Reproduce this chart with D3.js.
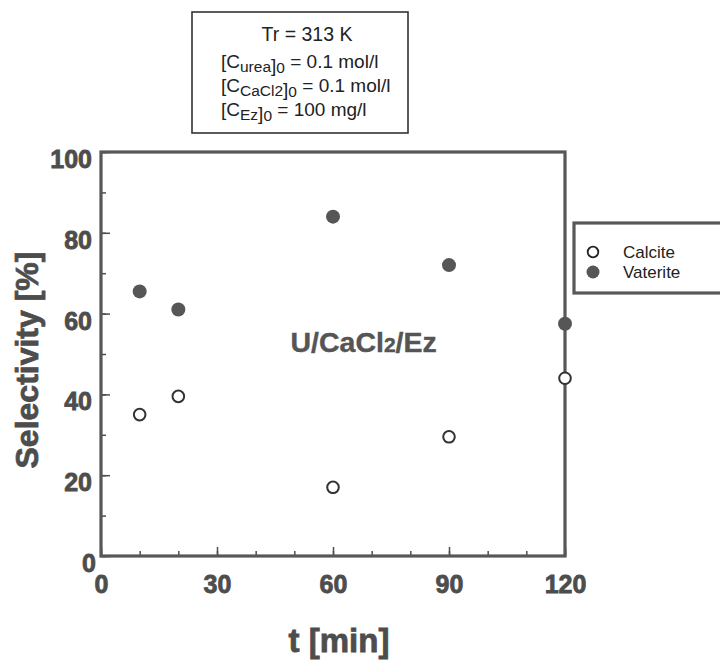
<!DOCTYPE html>
<html>
<head>
<meta charset="utf-8">
<script src="https://cdn.jsdelivr.net/npm/d3@7"></script>
<style>
  body { margin: 0; background: #fff; }
  svg { display: block; font-family: "Liberation Sans", Arial, sans-serif; }
</style>
</head>
<body>
<div id="chart"></div>
<script>
// data
const times = [10, 20, 60, 90, 120];
const calcite = [35, 39.5, 17, 29.5, 44];
const vaterite = [65.5, 61, 84, 72, 57.5];
const xTicks = [0, 30, 60, 90, 120];
const yTicks = [0, 20, 40, 60, 80, 100];
const seriesNames = ['Calcite', 'Vaterite'];

const W = 720, H = 662;
const margin = {top: 152, right: 155, bottom: 106, left: 101};
const width = W - margin.left - margin.right;
const height = H - margin.top - margin.bottom;
const ink = '#4d4d4d';

const svg = d3.select('#chart').append('svg')
  .attr('width', W).attr('height', H);

const g = svg.append('g')
  .attr('transform', `translate(${margin.left},${margin.top})`);

const x = d3.scaleLinear().domain([0, 120]).range([0, width]);
const y = d3.scaleLinear().domain([0, 100]).range([height, 0]);

// minor ticks, inward
g.append('g')
  .attr('transform', `translate(0,${height})`)
  .call(d3.axisBottom(x).tickValues(d3.range(0, 121, 10)).tickSize(-5).tickFormat(''))
  .call(a => a.select('.domain').remove());
g.append('g')
  .call(d3.axisLeft(y).tickValues(d3.range(0, 101, 10)).tickSize(-5).tickFormat(''))
  .call(a => a.select('.domain').remove());

// major ticks + labels
const xAxis = g.append('g')
  .attr('transform', `translate(0,${height})`)
  .call(d3.axisBottom(x).tickValues(xTicks).tickSize(-9).tickPadding(19));
const yAxis = g.append('g')
  .call(d3.axisLeft(y).tickValues(yTicks).tickSize(-9).tickPadding(9));

[xAxis, yAxis].forEach(a => {
  a.select('.domain').remove();
  a.selectAll('.tick text')
    .attr('fill', ink)
    .attr('stroke', ink)
    .attr('stroke-width', 0.8)
    .style('font-size', '25px')
    .style('font-weight', 'bold');
});
yAxis.selectAll('.tick text').attr('dy', '0.62em');
yAxis.selectAll('.tick').filter(d => d === 0).select('text').attr('x', -5);
g.selectAll('.tick line').attr('stroke', ink).attr('stroke-width', 1.5);

// frame
g.append('rect')
  .attr('width', width).attr('height', height)
  .attr('fill', 'none')
  .attr('stroke', '#575757')
  .attr('stroke-width', 3.2);

// points
const calcData = times.map((t, i) => ({t, v: calcite[i]}));
const vatData = times.map((t, i) => ({t, v: vaterite[i]}));

g.selectAll('.vat').data(vatData).enter().append('circle')
  .attr('class', 'vat')
  .attr('cx', d => x(d.t)).attr('cy', d => y(d.v))
  .attr('r', 7)
  .attr('fill', '#565656');

g.selectAll('.calc').data(calcData).enter().append('circle')
  .attr('class', 'calc')
  .attr('cx', d => x(d.t)).attr('cy', d => y(d.v))
  .attr('r', 5.8)
  .attr('fill', '#fff')
  .attr('stroke', '#333')
  .attr('stroke-width', 2);

// inside label U/CaCl2/Ez
const lab = g.append('text')
  .attr('x', x(49)).attr('y', y(50.5))
  .attr('fill', '#555').attr('stroke', '#555').attr('stroke-width', 0.4)
  .style('font-size', '28.5px').style('font-weight', 'bold');
lab.append('tspan').text('U/CaCl');
lab.append('tspan').style('font-size', '21px').text('2');
lab.append('tspan').text('/Ez');

// axis titles
svg.append('text')
  .attr('transform', `translate(38,${margin.top + height / 2 + 6}) rotate(-90)`)
  .attr('text-anchor', 'middle')
  .attr('fill', ink).attr('stroke', ink).attr('stroke-width', 0.8)
  .style('font-size', '32px').style('font-weight', 'bold')
  .text('Selectivity [%]');

svg.append('text')
  .attr('x', margin.left + width / 2 + 6).attr('y', 652)
  .attr('text-anchor', 'middle')
  .attr('fill', ink).attr('stroke', ink).attr('stroke-width', 0.8)
  .style('font-size', '33px').style('font-weight', 'bold')
  .text('t [min]');

// conditions box
svg.append('rect')
  .attr('x', 192).attr('y', 12).attr('width', 216).attr('height', 121)
  .attr('fill', '#fff').attr('stroke', '#333').attr('stroke-width', 1.6);

svg.append('text')
  .attr('x', 307).attr('y', 41).attr('text-anchor', 'middle')
  .attr('fill', '#222').style('font-size', '19.5px')
  .text('Tr = 313 K');

const condLines = [
  ['urea', ' = 0.1 mol/l'],
  ['CaCl2', ' = 0.1 mol/l'],
  ['Ez', ' = 100 mg/l']
];
condLines.forEach((c, i) => {
  const t = svg.append('text')
    .attr('x', 221).attr('y', 68 + i * 24)
    .attr('fill', '#222').style('font-size', '19px');
  t.append('tspan').text('[C');
  t.append('tspan').attr('dy', 4).style('font-size', '15.5px').text(c[0]);
  t.append('tspan').text(']');
  t.append('tspan').attr('dy', 1).style('font-size', '15.5px').text('0');
  t.append('tspan').attr('dy', -5).text(c[1]);
});

// legend
const leg = svg.append('g');
leg.append('rect')
  .attr('x', 574).attr('y', 223).attr('width', 160).attr('height', 70)
  .attr('fill', '#fff').attr('stroke', '#585858').attr('stroke-width', 3.2);

seriesNames.forEach((name, i) => {
  const cy = 252 + i * 20;
  if (i === 0) {
    leg.append('circle').attr('cx', 593).attr('cy', cy).attr('r', 5.3)
      .attr('fill', '#fff').attr('stroke', '#222').attr('stroke-width', 1.8);
  } else {
    leg.append('circle').attr('cx', 593).attr('cy', cy).attr('r', 6.5)
      .attr('fill', '#565656');
  }
  leg.append('text')
    .attr('x', 623).attr('y', cy + 6)
    .attr('fill', '#222').style('font-size', '17px')
    .text(name);
});
</script>
</body>
</html>
